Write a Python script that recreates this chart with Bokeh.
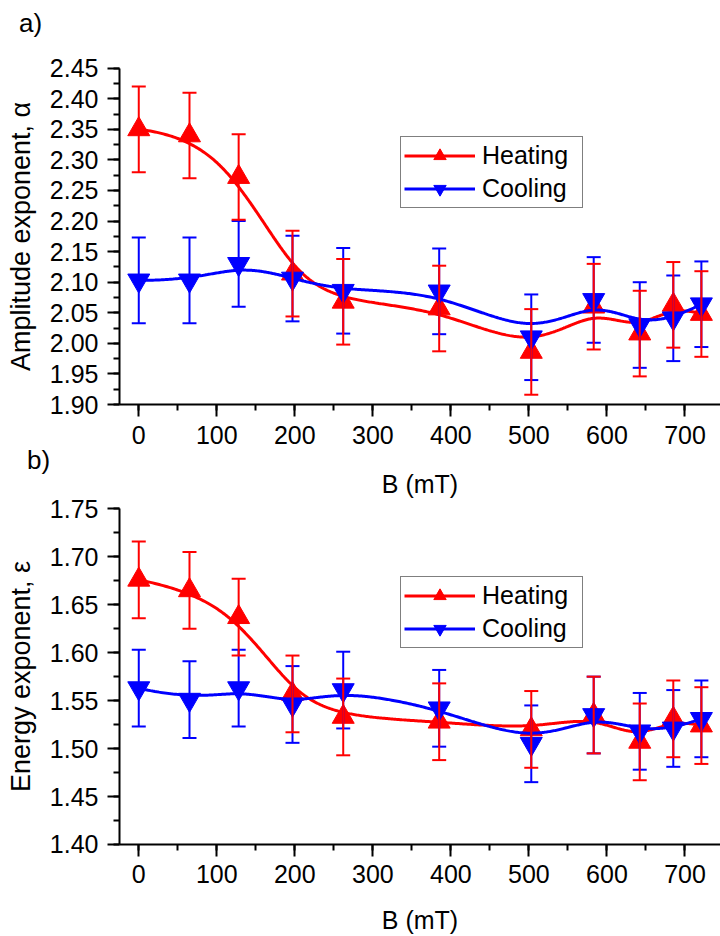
import numpy as np
from bokeh.plotting import figure
from bokeh.models import (ColumnDataSource, Whisker, TeeHead, Legend, LegendItem, Label,
                          SingleIntervalTicker, PrintfTickFormatter, Range1d, LinearAxis)
from bokeh.embed import file_html
from bokeh.resources import INLINE

# ---------------- data ----------------
B = [0, 65, 128, 197, 262, 385, 503, 583, 642, 685, 721]

alpha_heating = [2.350, 2.340, 2.272, 2.114, 2.068, 2.057, 1.986, 2.060, 2.016, 2.063, 2.048]
alpha_heating_err = [0.07, 0.07, 0.07, 0.07, 0.07, 0.07, 0.07, 0.07, 0.07, 0.07, 0.07]
alpha_cooling = [2.103, 2.103, 2.130, 2.106, 2.086, 2.085, 2.010, 2.071, 2.030, 2.041, 2.064]
alpha_cooling_err = [0.07, 0.07, 0.07, 0.07, 0.07, 0.07, 0.07, 0.07, 0.07, 0.07, 0.07]

eps_heating = [1.676, 1.665, 1.637, 1.557, 1.533, 1.528, 1.520, 1.535, 1.507, 1.531, 1.524]
eps_heating_err = [0.04, 0.04, 0.04, 0.04, 0.04, 0.04, 0.04, 0.04, 0.04, 0.04, 0.04]
eps_cooling = [1.563, 1.551, 1.563, 1.546, 1.561, 1.542, 1.505, 1.535, 1.518, 1.521, 1.531]
eps_cooling_err = [0.04, 0.04, 0.04, 0.04, 0.04, 0.04, 0.04, 0.04, 0.04, 0.04, 0.04]

series_labels = ["Heating", "Cooling"]

FONT = "Liberation Sans"
RED = "#ff0000"
BLUE = "#0000ff"

X_LO, X_HI = -24.7, 745.5          # visible axis extent of B


def bspline(xs, ys, n=500, k=3):
    """Clamped cubic B-spline using the data points as control points (Origin 'B-Spline' connect)."""
    P = np.column_stack([np.asarray(xs, float), np.asarray(ys, float)])
    m = len(P)
    knots = np.concatenate([np.zeros(k), np.linspace(0, 1, m - k + 1), np.ones(k)])
    t = np.linspace(0, 1, n)
    t[-1] -= 1e-9

    def N(i, d, t):
        if d == 0:
            return ((knots[i] <= t) & (t < knots[i + 1])).astype(float)
        out = np.zeros_like(t)
        d1 = knots[i + d] - knots[i]
        d2 = knots[i + d + 1] - knots[i + 1]
        if d1 > 0:
            out += (t - knots[i]) / d1 * N(i, d - 1, t)
        if d2 > 0:
            out += (knots[i + d + 1] - t) / d2 * N(i + 1, d - 1, t)
        return out

    basis = np.array([N(i, k, t) for i in range(m)])
    curve = basis.T @ P
    return curve[:, 0], curve[:, 1]


# one canvas, two panels placed with their own y ranges
p = figure(width=720, height=936, output_backend="svg", toolbar_location=None, title=None,
           x_range=Range1d(-177.2, X_HI), y_range=Range1d(0, 936),
           x_axis_type=None, y_axis_type=None,
           min_border_left=0, min_border_right=0, min_border_top=0, min_border_bottom=0)
p.outline_line_color = None
p.grid.visible = False
p.background_fill_color = "white"
p.border_fill_color = "white"
p.extra_y_ranges = {"alpha": Range1d(1.90 - 532 / 611.5, 2.45 + 67.7 / 611.5),
                    "eps": Range1d(1.40 - 92 / 959.1, 1.75 + 508.3 / 959.1)}


def style(ax):
    ax.axis_line_width = 2
    ax.axis_line_color = "black"
    ax.major_tick_line_width = 2
    ax.minor_tick_line_width = 2
    ax.major_tick_line_color = "black"
    ax.minor_tick_line_color = "black"
    ax.major_tick_in = 0
    ax.major_tick_out = 12
    ax.minor_tick_in = 0
    ax.minor_tick_out = 6
    ax.major_label_standoff = 9
    ax.major_label_text_font = FONT
    ax.major_label_text_font_size = "25px"
    ax.major_label_text_color = "black"
    ax.axis_label_text_font = FONT
    ax.axis_label_text_font_style = "normal"
    ax.axis_label_text_color = "black"
    return ax


def add_panel(rname, y_lo, y_hi, ylabel, heat, heat_err, cool, cool_err, xlabel_standoff, legend_xy):
    xa = style(LinearAxis(y_range_name=rname, fixed_location=y_lo, bounds=(X_LO, X_HI),
                          axis_label="B (mT)",
                          ticker=SingleIntervalTicker(interval=100, num_minor_ticks=2)))
    xa.axis_label_text_font_size = "25px"
    xa.axis_label_standoff = xlabel_standoff
    p.add_layout(xa, "below")

    ya = style(LinearAxis(y_range_name=rname, fixed_location=X_LO, bounds=(y_lo, y_hi),
                          axis_label=ylabel,
                          ticker=SingleIntervalTicker(interval=0.05, num_minor_ticks=2),
                          formatter=PrintfTickFormatter(format="%.2f")))
    ya.axis_label_text_font_size = "27px"
    ya.axis_label_standoff = 11
    p.add_layout(ya, "left")

    hx, hy = bspline(B, heat)
    cx, cy = bspline(B, cool)
    hl = p.line(hx, hy, line_color=RED, line_width=3, y_range_name=rname)
    hm = p.scatter(B, heat, marker="triangle", size=22, fill_color=RED, line_color=RED,
                   y_range_name=rname)
    cl = p.line(cx, cy, line_color=BLUE, line_width=3, y_range_name=rname)
    cm = p.scatter(B, cool, marker="inverted_triangle", size=22, fill_color=BLUE,
                   line_color=BLUE, y_range_name=rname)

    for vals, errs, col in ((cool, cool_err, BLUE), (heat, heat_err, RED)):
        src = ColumnDataSource(dict(x=B,
                                    upper=[v + e for v, e in zip(vals, errs)],
                                    lower=[v - e for v, e in zip(vals, errs)]))
        w = Whisker(source=src, base="x", upper="upper", lower="lower", y_range_name=rname,
                    line_color=col, line_width=2, level="annotation",
                    upper_head=TeeHead(size=14, line_color=col, line_width=2),
                    lower_head=TeeHead(size=14, line_color=col, line_width=2))
        p.add_layout(w)

    legend = Legend(items=[LegendItem(label=series_labels[0], renderers=[hl, hm]),
                           LegendItem(label=series_labels[1], renderers=[cl, cm])],
                    location=legend_xy, margin=0, padding=3, spacing=2,
                    glyph_width=71, glyph_height=31, label_height=31, label_width=97,
                    label_standoff=7, border_line_color="black", border_line_width=1,
                    label_text_font=FONT, label_text_font_size="25px",
                    label_text_color="black", background_fill_alpha=1)
    p.add_layout(legend)


add_panel("alpha", 1.90, 2.45, "Amplitude exponent, \u03b1",
          alpha_heating, alpha_heating_err, alpha_cooling, alpha_cooling_err, 23, (400, 728))
add_panel("eps", 1.40, 1.75, "Energy exponent, \u03b5",
          eps_heating, eps_heating_err, eps_cooling, eps_cooling_err, 19, (400, 288))

for txt, sx, sy in (("a)", 30, 914), ("b)", 38, 477)):
    p.add_layout(Label(x=sx, y=sy, x_units="screen", y_units="screen", text=txt,
                       text_font=FONT, text_font_size="26px", text_align="center",
                       text_baseline="middle", text_color="black"))

open("out.html", "w").write(file_html(p, INLINE))
